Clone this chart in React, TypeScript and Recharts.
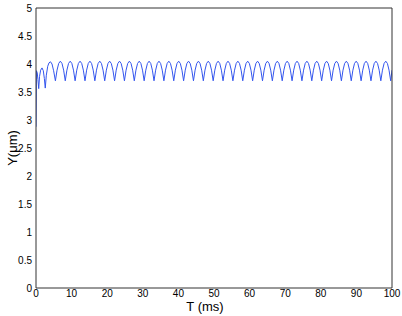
import { Label, Line, LineChart, XAxis, YAxis } from 'recharts';

// T (ms)
const time = [
  0, 0.12, 0.35, 0.55, 0.76, 1.0, 1.3, 1.69, 2.05, 2.35, 2.6, 2.9, 3.3, 3.65, 4.07, 4.5, 4.95,
  5.45, 5.91, 6.37, 6.84, 7.3, 7.76,
  8.22, 8.68, 9.14, 9.61, 10.07, 10.53,
  10.99, 11.45, 11.91, 12.38, 12.84, 13.3,
  13.76, 14.22, 14.68, 15.15, 15.61, 16.07,
  16.53, 16.99, 17.45, 17.92, 18.38, 18.84,
  19.3, 19.76, 20.22, 20.69, 21.15, 21.61,
  22.07, 22.53, 22.99, 23.46, 23.92, 24.38,
  24.84, 25.3, 25.76, 26.23, 26.69, 27.15,
  27.61, 28.07, 28.53, 29.0, 29.46, 29.92,
  30.38, 30.84, 31.3, 31.77, 32.23, 32.69,
  33.15, 33.61, 34.07, 34.54, 35.0, 35.46,
  35.92, 36.38, 36.84, 37.31, 37.77, 38.23,
  38.69, 39.15, 39.61, 40.08, 40.54, 41.0,
  41.46, 41.92, 42.38, 42.85, 43.31, 43.77,
  44.23, 44.69, 45.15, 45.62, 46.08, 46.54,
  47.0, 47.46, 47.92, 48.39, 48.85, 49.31,
  49.77, 50.23, 50.69, 51.16, 51.62, 52.08,
  52.54, 53.0, 53.46, 53.93, 54.39, 54.85,
  55.31, 55.77, 56.23, 56.7, 57.16, 57.62,
  58.08, 58.54, 59.0, 59.47, 59.93, 60.39,
  60.85, 61.31, 61.77, 62.24, 62.7, 63.16,
  63.62, 64.08, 64.54, 65.01, 65.47, 65.93,
  66.39, 66.85, 67.31, 67.78, 68.24, 68.7,
  69.16, 69.62, 70.08, 70.55, 71.01, 71.47,
  71.93, 72.39, 72.85, 73.32, 73.78, 74.24,
  74.7, 75.16, 75.62, 76.09, 76.55, 77.01,
  77.47, 77.93, 78.39, 78.86, 79.32, 79.78,
  80.24, 80.7, 81.16, 81.63, 82.09, 82.55,
  83.01, 83.47, 83.93, 84.4, 84.86, 85.32,
  85.78, 86.24, 86.7, 87.17, 87.63, 88.09,
  88.55, 89.01, 89.47, 89.94, 90.4, 90.86,
  91.32, 91.78, 92.24, 92.71, 93.17, 93.63,
  94.09, 94.55, 95.01, 95.48, 95.94, 96.4,
  96.86, 97.32, 97.78, 98.25, 98.71, 99.17,
  99.63, 100,
];

// Y (um)
const posY = [
  2.88, 3.88, 3.84, 3.72, 3.56, 3.78, 3.89, 3.93, 3.88, 3.74, 3.57, 3.8, 3.96, 4.02, 4.04, 4.0, 3.88,
  3.7, 3.89, 4.01, 4.05, 4.01, 3.89,
  3.7, 3.89, 4.01, 4.05, 4.01, 3.89,
  3.7, 3.89, 4.01, 4.05, 4.01, 3.89,
  3.7, 3.89, 4.01, 4.05, 4.01, 3.89,
  3.7, 3.89, 4.01, 4.05, 4.01, 3.89,
  3.7, 3.89, 4.01, 4.05, 4.01, 3.89,
  3.7, 3.89, 4.01, 4.05, 4.01, 3.89,
  3.7, 3.89, 4.01, 4.05, 4.01, 3.89,
  3.7, 3.89, 4.01, 4.05, 4.01, 3.89,
  3.7, 3.89, 4.01, 4.05, 4.01, 3.89,
  3.7, 3.89, 4.01, 4.05, 4.01, 3.89,
  3.7, 3.89, 4.01, 4.05, 4.01, 3.89,
  3.7, 3.89, 4.01, 4.05, 4.01, 3.89,
  3.7, 3.89, 4.01, 4.05, 4.01, 3.89,
  3.7, 3.89, 4.01, 4.05, 4.01, 3.89,
  3.7, 3.89, 4.01, 4.05, 4.01, 3.89,
  3.7, 3.89, 4.01, 4.05, 4.01, 3.89,
  3.7, 3.89, 4.01, 4.05, 4.01, 3.89,
  3.7, 3.89, 4.01, 4.05, 4.01, 3.89,
  3.7, 3.89, 4.01, 4.05, 4.01, 3.89,
  3.7, 3.89, 4.01, 4.05, 4.01, 3.89,
  3.7, 3.89, 4.01, 4.05, 4.01, 3.89,
  3.7, 3.89, 4.01, 4.05, 4.01, 3.89,
  3.7, 3.89, 4.01, 4.05, 4.01, 3.89,
  3.7, 3.89, 4.01, 4.05, 4.01, 3.89,
  3.7, 3.89, 4.01, 4.05, 4.01, 3.89,
  3.7, 3.89, 4.01, 4.05, 4.01, 3.89,
  3.7, 3.89, 4.01, 4.05, 4.01, 3.89,
  3.7, 3.89, 4.01, 4.05, 4.01, 3.89,
  3.7, 3.89, 4.01, 4.05, 4.01, 3.89,
  3.7, 3.89, 4.01, 4.05, 4.01, 3.89,
  3.7, 3.89, 4.01, 4.05, 4.01, 3.89,
  3.7, 3.89, 4.01, 4.05, 4.01, 3.89,
  3.7, 3.89, 4.01, 4.05, 4.01, 3.89,
  3.7, 3.89, 4.01, 4.05, 4.01, 3.89,
  3.7, 3.86,
];

const xTicks = [0, 10, 20, 30, 40, 50, 60, 70, 80, 90, 100];
const yTicks = [0, 0.5, 1, 1.5, 2, 2.5, 3, 3.5, 4, 4.5, 5];

const FONT = '"Liberation Sans", Arial, Helvetica, sans-serif';
const AXIS = '#333';

function App() {
  const data = time.map((t, i) => ({ t, y: posY[i] }));
  const tickStyle = { fontSize: 10, fill: '#000', fontFamily: FONT };

  return (
    <div style={{ position: 'absolute', left: 0, top: 0, background: '#fff' }}>
      <LineChart width={402} height={316} data={data} margin={{ top: 8, right: 10, left: 0, bottom: 0 }}>
        <XAxis
          dataKey="t"
          type="number"
          domain={[0, 100]}
          ticks={xTicks}
          allowDataOverflow
          height={28}
          tickLine={false}
          tickSize={0}
          tickMargin={2}
          tick={tickStyle}
          axisLine={{ stroke: AXIS }}
        >
          <Label
            content={(p: any) => (
              <text
                x={p.viewBox.x + p.viewBox.width / 2 - 9}
                y={p.viewBox.y + 23}
                textAnchor="middle"
                fontSize={13}
                fontFamily={FONT}
                fill="#000"
              >
                T (ms)
              </text>
            )}
          />
        </XAxis>
        <XAxis
          xAxisId="bm"
          dataKey="t"
          type="number"
          domain={[0, 100]}
          ticks={xTicks}
          allowDataOverflow
          orientation="bottom"
          mirror
          height={10}
          tick={false}
          tickSize={4}
          tickLine={{ stroke: AXIS }}
          axisLine={false}
        />
        <XAxis
          xAxisId="top"
          dataKey="t"
          type="number"
          domain={[0, 100]}
          ticks={xTicks}
          allowDataOverflow
          orientation="top"
          mirror
          height={10}
          tick={false}
          tickSize={4}
          tickLine={{ stroke: AXIS }}
          axisLine={{ stroke: AXIS }}
        />
        <YAxis
          type="number"
          domain={[0, 5]}
          ticks={yTicks}
          allowDataOverflow
          width={36}
          tickLine={false}
          tickSize={0}
          tickMargin={4}
          tick={tickStyle}
          axisLine={{ stroke: AXIS }}
        >
          <Label
            content={(p: any) => {
              const cx = p.viewBox.x + 12;
              const cy = p.viewBox.y + p.viewBox.height / 2;
              return (
                <text
                  x={cx}
                  y={cy}
                  dy="0.35em"
                  textAnchor="middle"
                  transform={`rotate(-90, ${cx}, ${cy})`}
                  fontSize={13}
                  fontFamily={FONT}
                  fill="#000"
                >
                  Y(μm)
                </text>
              );
            }}
          />
        </YAxis>
        <YAxis
          yAxisId="lm"
          type="number"
          domain={[0, 5]}
          ticks={yTicks}
          allowDataOverflow
          orientation="left"
          mirror
          width={10}
          tick={false}
          tickSize={4}
          tickLine={{ stroke: AXIS }}
          axisLine={false}
        />
        <YAxis
          yAxisId="right"
          type="number"
          domain={[0, 5]}
          ticks={yTicks}
          allowDataOverflow
          orientation="right"
          mirror
          width={10}
          tick={false}
          tickSize={4}
          tickLine={{ stroke: AXIS }}
          axisLine={{ stroke: AXIS }}
        />
        {/* hidden series so the frame axes get their scales */}
        <Line xAxisId="bm" yAxisId="lm" dataKey="y" stroke="none" dot={false} legendType="none" isAnimationActive={false} />
        <Line xAxisId="top" yAxisId="right" dataKey="y" stroke="none" dot={false} legendType="none" isAnimationActive={false} />
        <Line
          type="linear"
          dataKey="y"
          stroke="#3355ee"
          strokeWidth={1}
          dot={false}
          isAnimationActive={false}
        />
      </LineChart>
    </div>
  );
}

export default App;
